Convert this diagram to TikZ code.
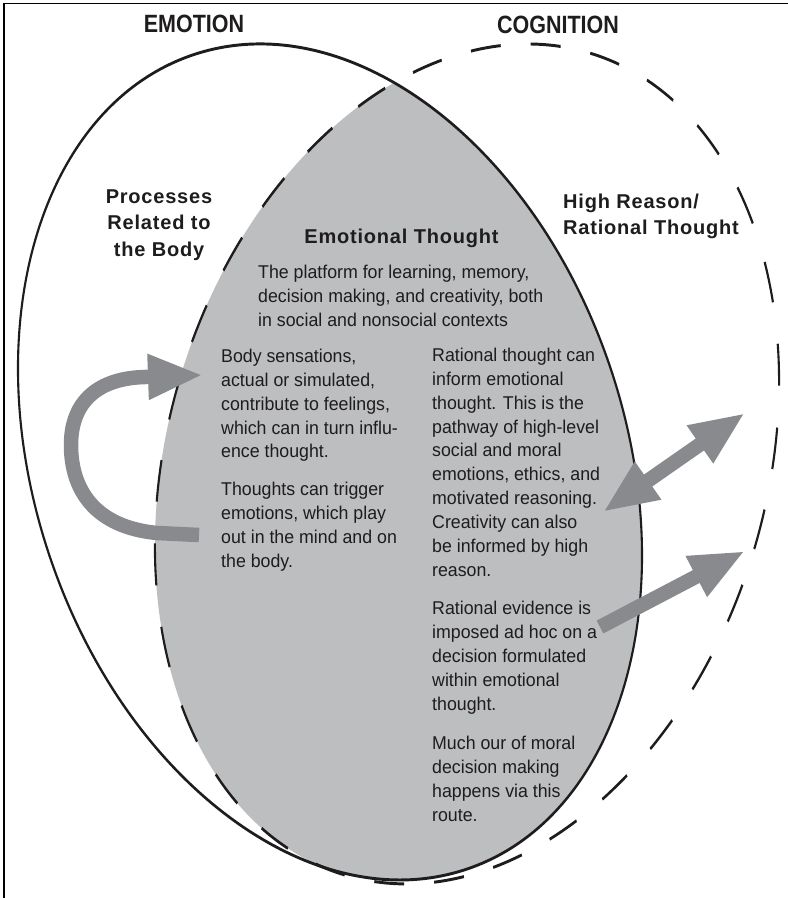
\documentclass[tikz,border=0pt]{standalone}
\usepackage{fontspec}
\setmainfont{Liberation Sans}
\newfontfamily\bodyfont{Liberation Sans}[FakeStretch=0.96]
\newfontfamily\headfont{Liberation Sans}[LetterSpace=4]
\newfontfamily\titlefont{Liberation Sans}[FakeStretch=0.86]
\usepackage{xcolor}
\usepackage{tikz}
\usetikzlibrary{arrows.meta}
\definecolor{thoughtgray}{RGB}{189,190,192}
\definecolor{arrowgray}{RGB}{137,138,141}
\definecolor{inkblack}{RGB}{30,28,29}

\tikzset{
  emotionegg/.style={yscale=1/1.4, shift={(330,-462)}, rotate=18.55},
  cognitionegg/.style={yscale=1/1.4, shift={(467,-464)}, rotate=-16.5},
  eggline/.style={line width=2.1pt, inkblack},
  bodytext/.style={inner sep=0pt, anchor=north west, align=left, text=inkblack,
    font=\bodyfont\fontsize{18.5}{23.9}\selectfont},
  headtext/.style={inner sep=0pt, text=inkblack,
    font=\headfont\bfseries\fontsize{20}{26.3}\selectfont},
  titletext/.style={inner sep=0pt, anchor=base, text=inkblack,
    font=\titlefont\bfseries\fontsize{25}{30}\selectfont},
  flowarrow/.style={arrowgray, line width=14.5pt, -{Triangle[length=55pt,width=42pt]}}
}

\begin{document}
\begin{tikzpicture}[x=1pt,y=1pt]
    \useasboundingbox (0,0) rectangle (788,-898);
    \fill[white] (0,0) rectangle (788,-898);

    % Cadre
    \draw[line width=1.4pt] (4,-898) -- (4,-3.5) -- (788,-3.5);

    % Les deux ovales
    \begin{scope}[transform canvas={yscale=1.4}]
        \begin{scope}
            \clip[emotionegg] (0,0) ellipse [x radius=295.8, y radius=429.6];
            \fill[thoughtgray, cognitionegg] (0,0) ellipse [x radius=299.6, y radius=428.9];
        \end{scope}
        \draw[eggline, emotionegg] (0,0) ellipse [x radius=295.8, y radius=429.6];
        \draw[eggline, cognitionegg, dash pattern=on 30pt off 30pt] (0,0) ellipse [x radius=299.6, y radius=428.9];
    \end{scope}

    % Titres
    \node[titletext] (emotion) at (194,-32) {EMOTION};
    \node[titletext] (cognition) at (558,-33) {COGNITION};
    \node[headtext, anchor=north, align=center] (body) at (159,-189.6) {Processes\\Related to\\the Body};
    \node[headtext, anchor=north west, align=left] (reason) at (563,-193.6) {High Reason/\\Rational Thought};
    \node[headtext, anchor=base] (thought) at (401.5,-243) {Emotional Thought};

    % Textes
    \node[bodytext] (platform) at (258,-264.7) {The platform for learning, memory,\\decision making, and creativity, both\\in social and nonsocial contexts};
    \node[bodytext] (bodyloop) at (221,-348.7) {Body sensations,\\actual or simulated,\\contribute to feelings,\\which can in turn influ-\\ence thought.\\[14pt]Thoughts can trigger\\emotions, which play\\out in the mind and on\\the body.};
    \node[bodytext] (reasonpath) at (432,-347.7) {Rational thought can\\inform emotional\\thought. This is the\\pathway of high-level\\social and moral\\emotions, ethics, and\\motivated reasoning.\\Creativity can also\\be informed by high\\reason.\\[14.1pt]Rational evidence is\\imposed ad hoc on a\\decision formulated\\within emotional\\thought.\\[16pt]Much our of moral\\decision making\\happens via this\\route.};

    % Fleches
    \coordinate (loopstart) at (199,-535);
    \coordinate (loopend) at (203,-375);
    \draw[flowarrow] (loopstart) -- (157,-533) .. controls (95,-527) and (71,-490) .. (71,-445)
        .. controls (71,-400) and (100,-378) .. (145,-377) -- (loopend);
    \coordinate (reasonin) at (603,-512);
    \coordinate (reasonout) at (745,-413);
    \draw[flowarrow, {Triangle[length=55pt,width=42pt]}-{Triangle[length=55pt,width=42pt]}] (reasonin) -- (reasonout);
    \coordinate (evidencestart) at (600,-627);
    \coordinate (evidenceend) at (745,-551);
    \draw[flowarrow] (evidencestart) -- (evidenceend);
\end{tikzpicture}
\end{document}
